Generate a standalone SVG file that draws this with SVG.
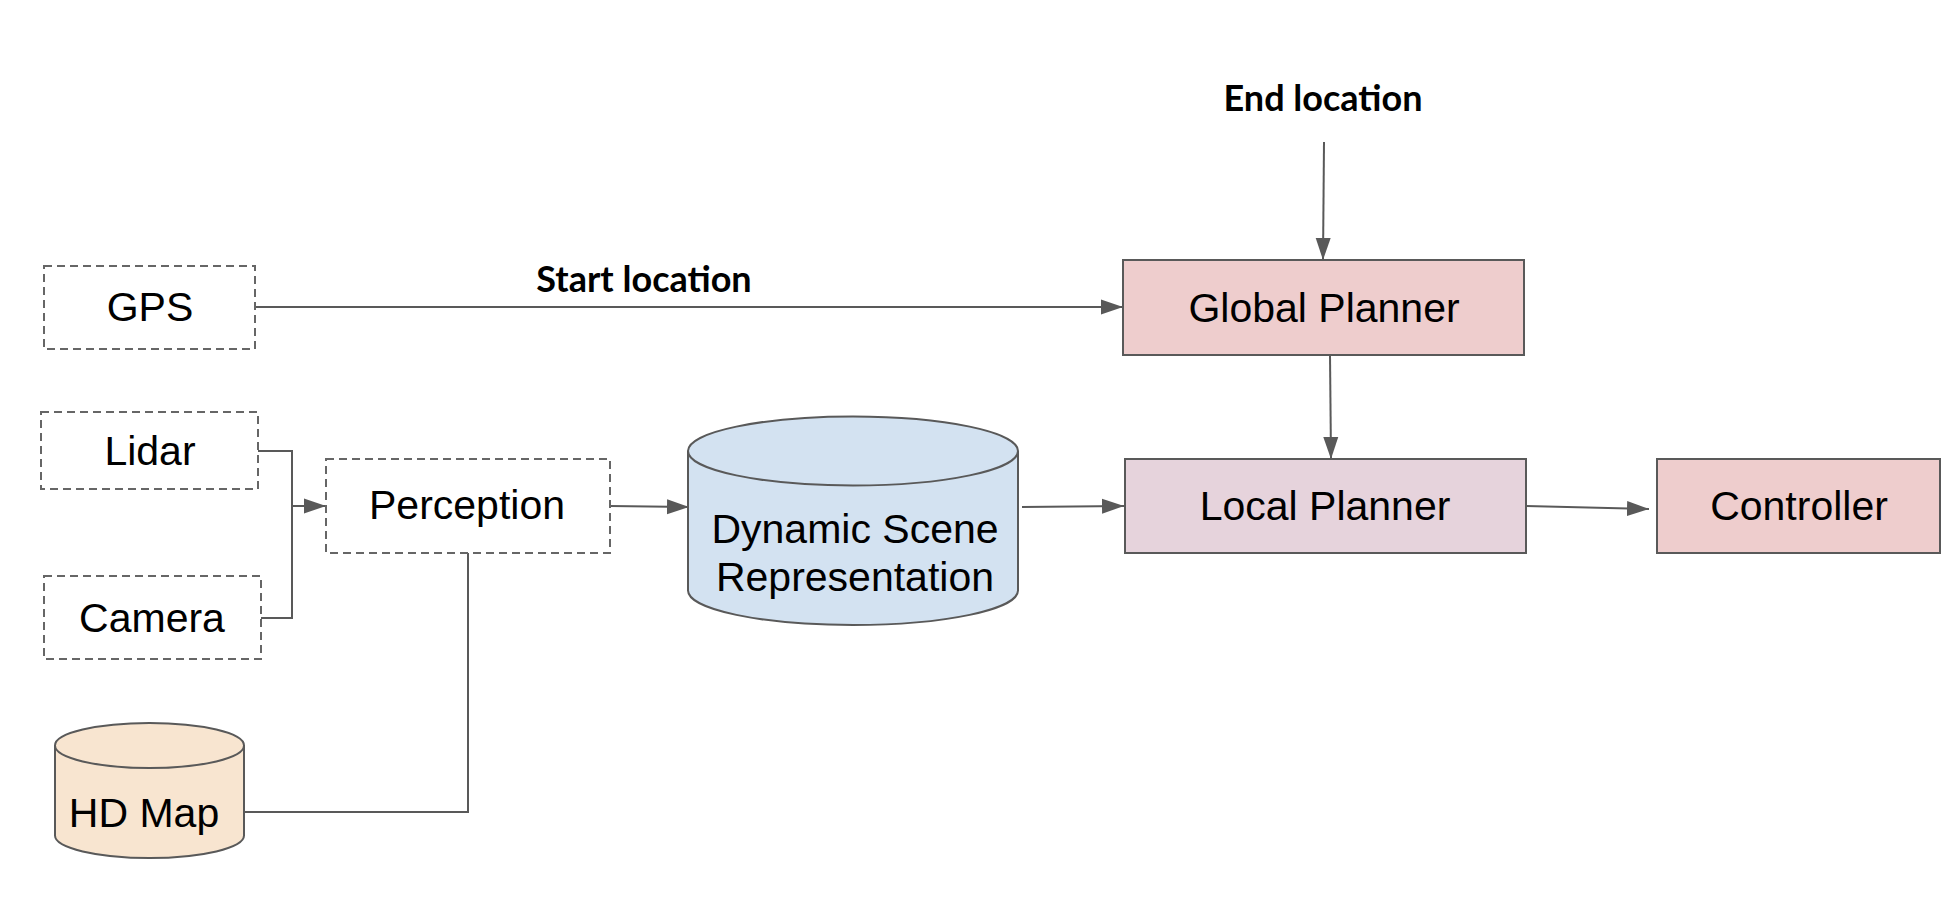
<svg xmlns="http://www.w3.org/2000/svg" width="1960" height="898" viewBox="0 0 1960 898">
  <style>
    .dash { fill: #ffffff; stroke: #666666; stroke-width: 2; stroke-dasharray: 8 5; }
    .solid { stroke: #595959; stroke-width: 2; }
    .lbl { font-family: "Liberation Sans", Arial, sans-serif; font-size: 41px; fill: #000000; text-anchor: middle; }
    .edge { font-family: Lato, "Liberation Sans", sans-serif; font-weight: bold; font-size: 36px; fill: #000000; text-anchor: middle; }
    .conn { fill: none; stroke: #595959; stroke-width: 2; }
  </style>
  <defs>
    <marker id="arrow" markerUnits="userSpaceOnUse" markerWidth="23" markerHeight="16" refX="22" refY="8" orient="auto">
      <path d="M0,0.5 L22,8 L0,15.5 Z" fill="#595959"/>
    </marker>
  </defs>
  <rect width="1960" height="898" fill="#ffffff"/>

  <g id="connectors">
    <path class="conn" d="M255,307 L1123,307" marker-end="url(#arrow)"/>
    <path class="conn" d="M258,451 H292 V618 H261"/>
    <path class="conn" d="M292,506 H326" marker-end="url(#arrow)"/>
    <path class="conn" d="M610,506 L689,507" marker-end="url(#arrow)"/>
    <path class="conn" d="M468,553 V812 H245"/>
    <path class="conn" d="M1022,507 L1124,506" marker-end="url(#arrow)"/>
    <path class="conn" d="M1324,142 L1323,260" marker-end="url(#arrow)"/>
    <path class="conn" d="M1330,355 L1331,459" marker-end="url(#arrow)"/>
    <path class="conn" d="M1526,506 L1649,509" marker-end="url(#arrow)"/>
  </g>

  <g id="label-start">
    <text class="edge" x="644" y="292">Start location</text>
  </g>
  <g id="label-end">
    <text class="edge" x="1323" y="111">End location</text>
  </g>

  <g id="gps">
    <rect class="dash" x="44" y="266" width="211" height="83"/>
    <text class="lbl" x="150" y="321">GPS</text>
  </g>
  <g id="lidar">
    <rect class="dash" x="41" y="412" width="217" height="77"/>
    <text class="lbl" x="150" y="465">Lidar</text>
  </g>
  <g id="camera">
    <rect class="dash" x="44" y="576" width="217" height="83"/>
    <text class="lbl" x="152" y="632">Camera</text>
  </g>
  <g id="perception">
    <rect class="dash" x="326" y="459" width="284" height="94"/>
    <text class="lbl" x="467" y="519">Perception</text>
  </g>
  <g id="dynamic-scene">
    <path class="solid" fill="#d3e2f1" d="M688,451 A165,34.5 0 0 1 1018,451 V590.5 A165,34.5 0 0 1 688,590.5 Z"/>
    <path class="solid" fill="none" d="M688,451 A165,34.5 0 0 0 1018,451"/>
    <text class="lbl" x="855" y="543">Dynamic Scene</text>
    <text class="lbl" x="855" y="591">Representation</text>
  </g>
  <g id="hd-map">
    <path class="solid" fill="#f8e5d0" d="M55,745.5 A94.5,22.5 0 0 1 244,745.5 V835.5 A94.5,22.5 0 0 1 55,835.5 Z"/>
    <path class="solid" fill="none" d="M55,745.5 A94.5,22.5 0 0 0 244,745.5"/>
    <text class="lbl" x="144" y="827">HD Map</text>
  </g>
  <g id="global-planner">
    <rect class="solid" fill="#eecdcd" x="1123" y="260" width="401" height="95"/>
    <text class="lbl" x="1324" y="322">Global Planner</text>
  </g>
  <g id="local-planner">
    <rect class="solid" fill="#e6d3dc" x="1125" y="459" width="401" height="94"/>
    <text class="lbl" x="1325" y="520">Local Planner</text>
  </g>
  <g id="controller">
    <rect class="solid" fill="#eecdcd" x="1657" y="459" width="283" height="94"/>
    <text class="lbl" x="1799" y="520">Controller</text>
  </g>
</svg>
